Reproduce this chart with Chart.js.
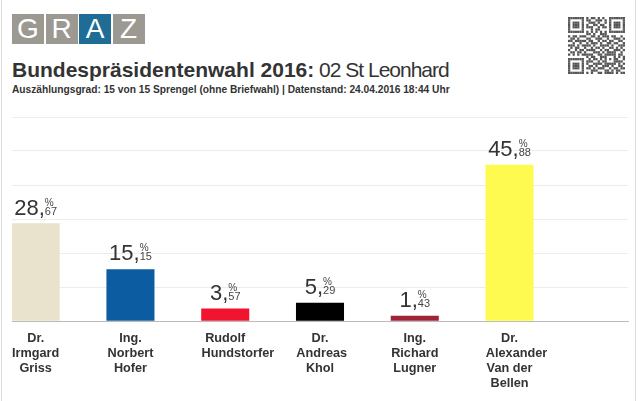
<!DOCTYPE html>
<html lang="de">

<head>
    <meta charset="UTF-8">
    <title>Bundespräsidentenwahl 2016: 02 St Leonhard</title>
    <style>
        body { margin: 0; background: #fff; font-family: "Liberation Sans", Arial, sans-serif; color: #333; }
        #page { position: absolute; left: 1px; top: 0; width: 633px; height: 401px; border-left: 1px solid #dcdcdc; border-right: 1px solid #dcdcdc; }
        .logo { position: absolute; top: 14px; width: 32px; height: 30px; background: #9c9892; color: #fff; font-size: 28px; line-height: 30px; text-align: center; }
        #title { position: absolute; left: 12px; top: 58px; font-size: 21px; white-space: nowrap; }
        #title span { letter-spacing: -1px; }
        #sub { position: absolute; left: 12px; top: 84px; font-size: 10.2px; font-weight: bold; white-space: nowrap; }
        #qr { position: absolute; left: 568px; top: 17px; }
        #box { position: absolute; left: 0; top: 100px; width: 640px; height: 301px; }
    </style>
</head>

<body>
    <div id="page"></div>
    <div class="logo" style="left: 12px;">G</div>
    <div class="logo" style="left: 45.5px;">R</div>
    <div class="logo" style="left: 79px; background: #1f6c96;">A</div>
    <div class="logo" style="left: 112.5px;">Z</div>
    <div id="title"><b>Bundespräsidentenwahl 2016:</b><span> 02 St Leonhard</span></div>
    <div id="sub">Auszählungsgrad: 15 von 15 Sprengel (ohne Briefwahl) | Datenstand: 24.04.2016 18:44 Uhr</div>
    <canvas id="qr" width="57" height="57"></canvas>
    <div id="box">
        <canvas id="myChart"></canvas>
    </div>
    <script src="https://cdn.jsdelivr.net/npm/chart.js"></script>
    <script>
        const candidates = [
            ['Dr.', 'Irmgard', 'Griss'],
            ['Ing.', 'Norbert', 'Hofer'],
            ['Rudolf', 'Hundstorfer'],
            ['Dr.', 'Andreas', 'Khol'],
            ['Ing.', 'Richard', 'Lugner'],
            ['Dr.', 'Alexander', 'Van der', 'Bellen']
        ];
        const percents = [28.67, 15.15, 3.57, 5.29, 1.43, 45.88];
        const barColors = ['#e9e2cd', '#0b5ca0', '#f1142f', '#000000', '#a12338', '#fffa4f'];

        // qr code decoration
        const qrRows = [
            "1111111010110101001111111",
            "1000001011001110101000001",
            "1011101001110100101011101",
            "1011101010011011001011101",
            "1011101011100101101011101",
            "1000001000101100001000001",
            "1111111010101010101111111",
            "0000000011010011100000000",
            "1011011100110101110110010",
            "0110100011001110010011101",
            "1101111101100101101100110",
            "0010010010111010011011001",
            "1110101111010011110100111",
            "0101100100101101001101010",
            "1001011011110010110011101",
            "0110110100011101011110010",
            "1010101111100110111110110",
            "0000000010110011100010101",
            "1111111001011010101011001",
            "1000001011100101100011110",
            "1011101010011110111110101",
            "1011101001101001110100110",
            "1011101011010111001011011",
            "1000001000111000110101100",
            "1111111010100110111101011"
        ];
        const qctx = document.getElementById('qr').getContext('2d');
        qctx.fillStyle = '#555';
        const m = 57 / 25;
        qrRows.forEach((row, r) => {
            for (let c = 0; c < row.length; c++) {
                if (row[c] === '1') qctx.fillRect(c * m, r * m, m, m);
            }
        });

        // every candidate gets a slot, followed by an empty slot
        let labels = [];
        let data = [];
        let colors = [];
        for (let i = 0; i < candidates.length; i++) {
            labels.push(candidates[i]);
            data.push(percents[i]);
            colors.push(barColors[i]);
            labels.push('');
            data.push(null);
            colors.push('transparent');
        }
        labels.push('');
        data.push(null);
        colors.push('transparent');

        const FONT = '"Liberation Sans", Arial, sans-serif';

        const valueLabels = {
            id: 'valueLabels',
            afterDatasetsDraw(chart) {
                const c = chart.ctx;
                const meta = chart.getDatasetMeta(0);
                const axisY = chart.scales.x.top;
                meta.data.forEach((bar, i) => {
                    const v = data[i];
                    if (v === null) return;
                    c.save();
                    c.textBaseline = 'alphabetic';
                    c.textAlign = 'left';

                    // percent value above the bar
                    const parts = v.toFixed(2).split('.');
                    const big = parts[0] + ',';
                    c.font = '22px ' + FONT;
                    const wBig = c.measureText(big).width;
                    c.font = '11px ' + FONT;
                    const wDec = c.measureText(parts[1]).width;
                    const x0 = bar.x - (wBig + wDec) / 2;
                    const base = bar.y - 9;
                    c.fillStyle = '#333';
                    c.font = '22px ' + FONT;
                    c.fillText(big, x0, base);
                    c.fillStyle = '#444';
                    c.font = '11px ' + FONT;
                    c.fillText(parts[1], x0 + wBig, base);
                    c.font = '10px ' + FONT;
                    c.fillText('%', x0 + wBig, base - 9);

                    // name under the bar, long lines run over to the right
                    const left = bar.x - bar.width / 2;
                    c.fillStyle = '#333';
                    c.font = 'bold 12.7px ' + FONT;
                    labels[i].forEach((line, k) => {
                        const w = c.measureText(line).width;
                        const lx = w > bar.width ? left : bar.x - w / 2;
                        c.fillText(line, lx, axisY + 21 + k * 15);
                    });
                    c.restore();
                });
            }
        };

        new Chart(document.getElementById('myChart'), {
            type: 'bar',
            data: {
                labels: labels,
                datasets: [{
                    data: data,
                    backgroundColor: colors,
                    borderWidth: 0,
                    categoryPercentage: 1,
                    barPercentage: 1
                }]
            },
            options: {
                responsive: true,
                maintainAspectRatio: false,
                animation: false,
                layout: { padding: { left: 12, right: 12, top: 17, bottom: 0 } },
                scales: {
                    x: {
                        grid: { display: false },
                        border: { color: '#bbbbbb' },
                        ticks: { display: false },
                        afterFit: (scale) => { scale.height = 80; }
                    },
                    y: {
                        min: 0,
                        max: 60,
                        ticks: { display: false, stepSize: 10 },
                        grid: { color: '#ececec', drawTicks: false },
                        border: { display: false },
                        afterFit: (scale) => { scale.width = 0; }
                    }
                },
                plugins: {
                    legend: { display: false },
                    tooltip: { enabled: false }
                }
            },
            plugins: [valueLabels]
        });
    </script>
</body>

</html>
